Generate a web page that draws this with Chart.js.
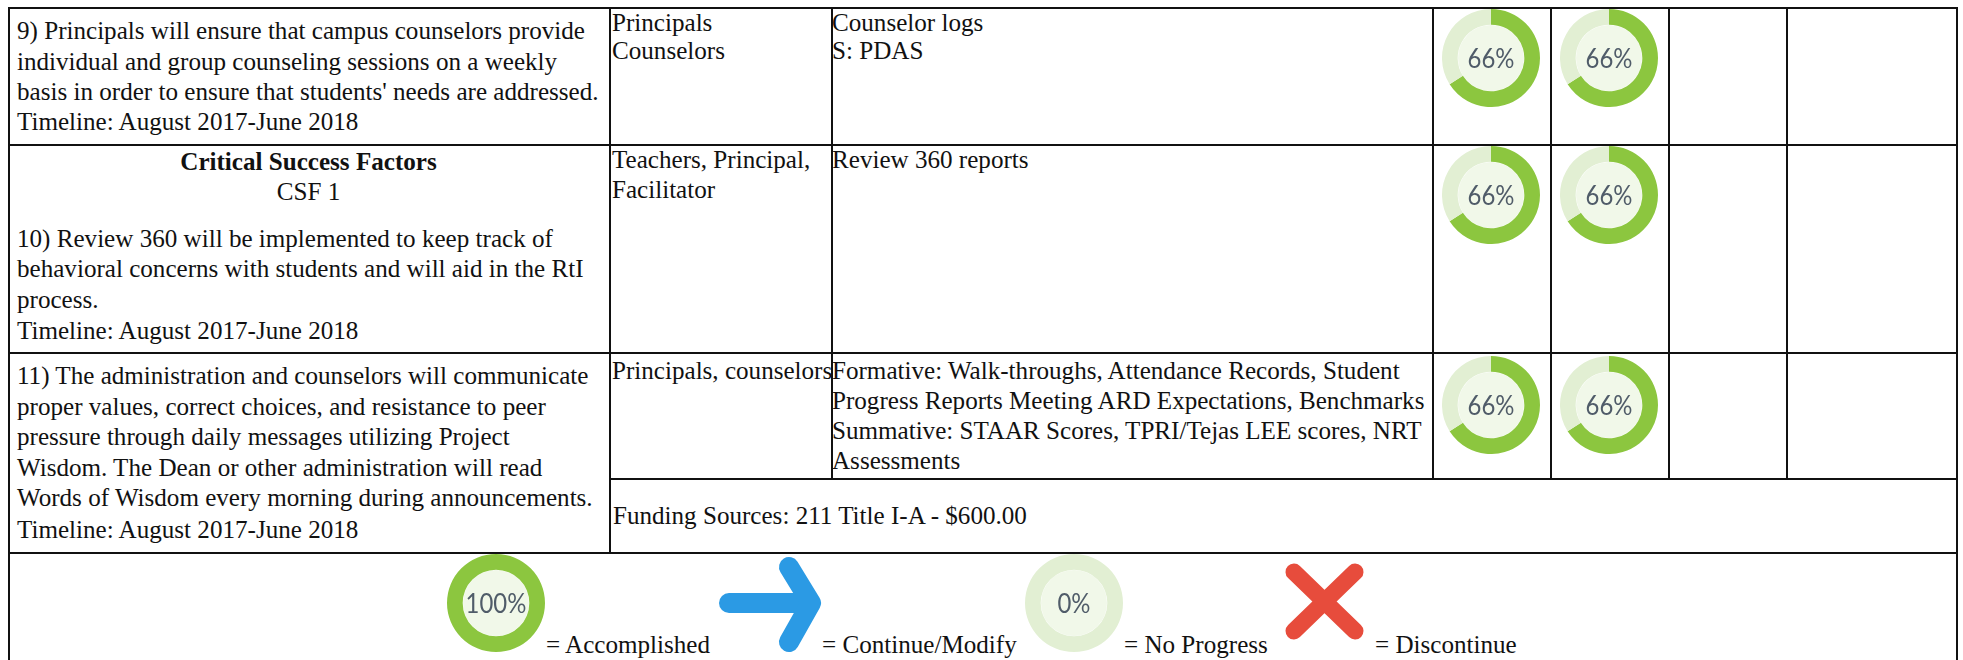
<!DOCTYPE html>
<html>
<head>
<meta charset="utf-8">
<script src="https://cdn.jsdelivr.net/npm/chart.js@4"></script>
<style>
html, body { margin: 0; padding: 0; background: #fff; }
#page { position: relative; width: 1963px; height: 660px; overflow: hidden; font-family: "Liberation Serif", serif; color: #111; }
.t { position: absolute; white-space: nowrap; font-size: 25.1px; line-height: 30px; height: 30px; }
.c { left: 8px; width: 601px; text-align: center; }
.h { position: absolute; background: #111; height: 2px; }
.v { position: absolute; background: #111; width: 2px; }
.dot { position: absolute; border-radius: 50%; background: #f1f8e9; }
canvas { position: absolute; }
.pct { position: absolute; text-align: center; font-family: Lato, sans-serif; color: #505c69; font-size: 26px; line-height: 30px; }
</style>
</head>
<body>
<div id="page">
<svg style="position:absolute;left:0;top:0" width="1963" height="660">
  <g fill="none" stroke="#2b9ae4" stroke-width="20" stroke-linecap="round" stroke-linejoin="round">
    <path d="M729 603H808"/>
    <path d="M789 567L811 603L789 642"/>
  </g>
  <g fill="none" stroke="#e74c3c" stroke-width="17" stroke-linecap="round">
    <path d="M1294 572L1355 631"/>
    <path d="M1355 572L1294 631"/>
  </g>
</svg>
</div>
<script>
// progress values read from the gauges: [done, remaining]
var gaugeLabels = ['Done', 'Remaining'];
var row9 = [66, 34];
var row10 = [66, 34];
var row11 = [66, 34];
var legendFull = [100, 0];
var legendNone = [0, 100];
var gaugeColors = ['#8cc63f', '#e2efd3'];

// table rules [x/y, from, to]
var hLines = [[7, 8, 1958], [144, 8, 1958], [352, 8, 1958], [478, 609, 1958], [552, 8, 1958]];
var vLines = [[8, 7, 660], [609, 7, 552], [831, 7, 478], [1432, 7, 478], [1550, 7, 478], [1668, 7, 478], [1786, 7, 478], [1956, 7, 660]];

// [text, x, y centre]
var lines = [
  ['9) Principals will ensure that campus counselors provide', 17, 31],
  ['individual and group counseling sessions on a weekly', 17, 62],
  ["basis in order to ensure that students' needs are addressed.", 17, 92],
  ['Timeline: August 2017-June 2018', 17, 122],
  ['10) Review 360 will be implemented to keep track of', 17, 239],
  ['behavioral concerns with students and will aid in the RtI', 17, 269],
  ['process.', 17, 300],
  ['Timeline: August 2017-June 2018', 17, 331],
  ['11) The administration and counselors will communicate', 17, 376],
  ['proper values, correct choices, and resistance to peer', 17, 407],
  ['pressure through daily messages utilizing Project', 17, 437],
  ['Wisdom. The Dean or other administration will read', 17, 468],
  ['Words of Wisdom every morning during announcements.', 17, 498],
  ['Timeline: August 2017-June 2018', 17, 530],
  ['Principals', 612, 23],
  ['Counselors', 612, 51],
  ['Counselor logs', 832, 23],
  ['S: PDAS', 832, 51],
  ['Teachers, Principal,', 612, 160],
  ['Facilitator', 612, 190],
  ['Review 360 reports', 832, 160],
  ['Principals, counselors', 612, 371],
  ['Formative: Walk-throughs, Attendance Records, Student', 832, 371],
  ['Progress Reports Meeting ARD Expectations, Benchmarks', 832, 401],
  ['Summative: STAAR Scores, TPRI/Tejas LEE scores, NRT', 832, 431],
  ['Assessments', 832, 461],
  ['Funding Sources: 211 Title I-A - $600.00', 613, 516],
  ['= Accomplished', 546, 645],
  ['= Continue/Modify', 822, 645],
  ['= No Progress', 1124, 645],
  ['= Discontinue', 1375, 645]
];

var page = document.getElementById('page');

function addEl(cls, css, txt) {
  var d = document.createElement('div');
  d.className = cls;
  d.style.cssText = css;
  if (txt) d.textContent = txt;
  page.appendChild(d);
  return d;
}

hLines.forEach(function (l) {
  addEl('h', 'top:' + l[0] + 'px;left:' + l[1] + 'px;width:' + (l[2] - l[1]) + 'px');
});
vLines.forEach(function (l) {
  addEl('v', 'left:' + l[0] + 'px;top:' + l[1] + 'px;height:' + (l[2] - l[1]) + 'px');
});
lines.forEach(function (l) {
  addEl('t', 'left:' + l[1] + 'px;top:' + (l[2] - 15) + 'px', l[0]);
});
addEl('t c', 'top:147px;font-weight:bold', 'Critical Success Factors');
addEl('t c', 'top:177px', 'CSF 1');

function gauge(cx, cy, values) {
  var size = 98;
  addEl('dot', 'left:' + (cx - 33) + 'px;top:' + (cy - 33) + 'px;width:66px;height:66px');
  var c = document.createElement('canvas');
  c.width = size;
  c.height = size;
  c.style.left = (cx - size / 2) + 'px';
  c.style.top = (cy - size / 2) + 'px';
  page.appendChild(c);
  new Chart(c.getContext('2d'), {
    type: 'doughnut',
    data: {
      labels: gaugeLabels,
      datasets: [{ data: values, backgroundColor: gaugeColors, borderWidth: 0 }]
    },
    options: {
      responsive: false,
      animation: false,
      cutout: '68%',
      layout: { padding: 0 },
      plugins: { legend: { display: false }, tooltip: { enabled: false } }
    }
  });
  addEl('pct', 'left:' + (cx - 40) + 'px;top:' + (cy - 15) + 'px;width:80px;transform:scaleX(0.92)', values[0] + '%');
}

gauge(1491, 58, row9);
gauge(1609, 58, row9);
gauge(1491, 195, row10);
gauge(1609, 195, row10);
gauge(1491, 405, row11);
gauge(1609, 405, row11);
gauge(496, 603, legendFull);
gauge(1074, 603, legendNone);
</script>
</body>
</html>
